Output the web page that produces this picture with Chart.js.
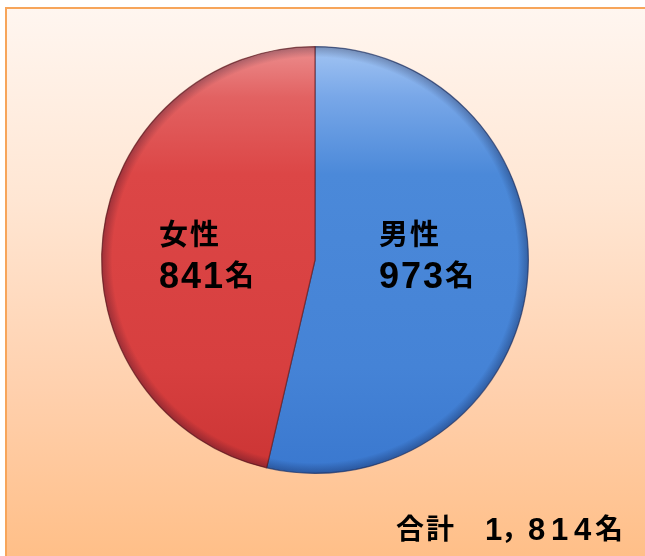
<!DOCTYPE html>
<html>
<head>
<meta charset="utf-8">
<script src="https://cdn.jsdelivr.net/npm/chart.js@4/dist/chart.umd.min.js"></script>
<style>
html,body{margin:0;padding:0;background:#fff;}
#wrap{width:645px;height:556px;position:relative;}
</style>
</head>
<body>
<div id="wrap"><canvas id="c" width="645" height="556"></canvas></div>
<script>
const categories = ["男性", "女性"];
const values = [973, 841];
const unit = "名";
const totalLabel = "合計　1，814名";

const palettes = [
  ["#a3c5f3", "#78a7e8", "#4b89d9", "#4583d6", "#3a78cf"],
  ["#ec8e8e", "#e26262", "#dc4646", "#d73f3f", "#cb3434"]
];
const edgeColors = ["rgba(40,60,110,0.7)", "rgba(110,30,30,0.7)"];

function isNarrow(ch){ return /[0-9,.]/.test(ch); }

function drawSpaced(ctx, text, x, y, opts){
  let cx = x;
  for (const ch of text){
    let cell, font, dy = 0;
    if (isNarrow(ch)) { cell = opts.digitCell; font = opts.digitFont; }
    else if (ch === "，") { cell = opts.commaCell; font = opts.cjkFont; dy = opts.cjkDy; }
    else if (ch === "　") { cell = opts.spaceCell; font = opts.cjkFont; }
    else { cell = opts.cjkCell; font = opts.cjkFont; dy = opts.cjkDy; }
    ctx.font = font;
    const w = ctx.measureText(ch).width;
    ctx.fillText(ch, cx + (cell - w) / 2, y + dy);
    cx += cell;
  }
  return cx;
}

const bgPlugin = {
  id: "bg",
  beforeDraw(chart){
    const ctx = chart.ctx;
    ctx.save();
    ctx.fillStyle = "#ffffff";
    ctx.fillRect(0, 0, chart.width, chart.height);
    const g = ctx.createLinearGradient(0, 8, 0, chart.height);
    g.addColorStop(0, "#fff6f0");
    g.addColorStop(0.35, "#ffe6d3");
    g.addColorStop(0.7, "#ffd0ad");
    g.addColorStop(1, "#ffbf88");
    ctx.fillStyle = g;
    ctx.fillRect(6, 8, chart.width - 6, chart.height - 8);
    ctx.strokeStyle = "#f7a55a";
    ctx.lineWidth = 2;
    ctx.beginPath();
    ctx.moveTo(6, chart.height);
    ctx.lineTo(6, 8);
    ctx.lineTo(chart.width, 8);
    ctx.stroke();
    ctx.restore();
  }
};

const labelPlugin = {
  id: "labels",
  afterDatasetsDraw(chart){
    const ctx = chart.ctx;
    const meta = chart.getDatasetMeta(0);
    ctx.save();
    // subtle dark rim around the pie
    const a0 = meta.data[0];
    if (a0) {
      const r = a0.outerRadius;
      const rg = ctx.createRadialGradient(a0.x, a0.y, r * 0.95, a0.x, a0.y, r);
      rg.addColorStop(0, "rgba(0,0,30,0)");
      rg.addColorStop(1, "rgba(0,0,30,0.28)");
      ctx.beginPath();
      ctx.arc(a0.x, a0.y, r, 0, Math.PI * 2);
      ctx.fillStyle = rg;
      ctx.fill();
    }
    ctx.fillStyle = "#000";
    ctx.textBaseline = "alphabetic";
    const opts = {
      digitFont: "bold 36px 'Liberation Sans', Arial, sans-serif",
      cjkFont: "bold 29px 'Noto Sans CJK JP', sans-serif",
      digitCell: 22, cjkCell: 31, commaCell: 20, spaceCell: 26, cjkDy: -2
    };
    meta.data.forEach((arc, i) => {
      const p = arc.tooltipPosition();
      const x0 = p.x - 48 + (p.x > arc.x ? 5 : -3);
      drawSpaced(ctx, categories[i], x0, arc.y - 13, opts);
      drawSpaced(ctx, String(values[i]) + unit, x0, arc.y + 28, opts);
    });
    const topts = {
      digitFont: "bold 31px 'Liberation Sans', Arial, sans-serif",
      cjkFont: "bold 28px 'Noto Sans CJK JP', sans-serif",
      digitCell: 23, cjkCell: 30, commaCell: 20, spaceCell: 27, cjkDy: -1
    };
    drawSpaced(ctx, totalLabel, 395, 540, topts);
    ctx.restore();
  }
};

function sliceFill(c){
  const i = c.dataIndex;
  const p = palettes[i] || palettes[0];
  const area = c.chart.chartArea;
  if (!area) return p[2];
  const g = c.chart.ctx.createLinearGradient(0, area.top, 0, area.bottom);
  g.addColorStop(0, p[0]);
  g.addColorStop(0.12, p[1]);
  g.addColorStop(0.3, p[2]);
  g.addColorStop(0.75, p[3]);
  g.addColorStop(1, p[4]);
  return g;
}

new Chart(document.getElementById("c"), {
  type: "pie",
  data: {
    labels: categories,
    datasets: [{
      data: values,
      backgroundColor: sliceFill,
      borderColor: (c) => edgeColors[c.dataIndex] || edgeColors[0],
      borderWidth: 1.2,
      hoverOffset: 0
    }]
  },
  options: {
    responsive: false,
    animation: false,
    rotation: 0,
    layout: { padding: { left: 101, right: 116, top: 46, bottom: 82 } },
    plugins: { legend: { display: false }, tooltip: { enabled: false } },
    events: []
  },
  plugins: [bgPlugin, labelPlugin]
});
</script>
</body>
</html>
